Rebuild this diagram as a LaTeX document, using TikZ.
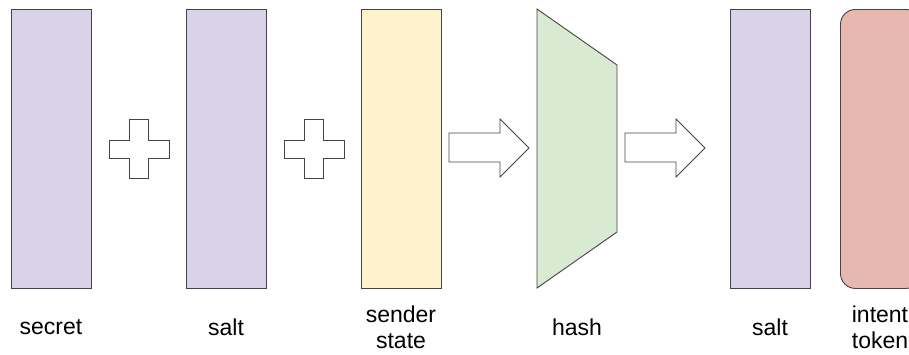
\documentclass[tikz,border=0pt]{standalone}
\usepackage{fontspec}
\setmainfont{Liberation Sans}
\definecolor{linegray}{HTML}{444444}
\definecolor{lilac}{HTML}{D9D2E9}
\definecolor{paleyellow}{HTML}{FFF2CC}
\definecolor{palegreen}{HTML}{D9EAD3}
\definecolor{palered}{HTML}{E6B8AF}
\begin{document}
\begin{tikzpicture}[x=1pt,y=-1pt,
  outline/.style={draw=linegray,line width=0.9pt,line join=miter},
  bar/.style={outline,rectangle,minimum width=80pt,minimum height=279pt,inner sep=0pt,anchor=north west},
  caption/.style={font=\fontsize{23}{26}\selectfont,align=center,text=black,inner sep=0pt}]
\useasboundingbox (0,0) rectangle (909,354);

% input, intermediate and output blocks
\node[bar,fill=lilac] (secret) at (11,9) {};
\node[bar,fill=lilac] (salt) at (186,9) {};
\node[bar,fill=paleyellow] (sender) at (361,9) {};
\node[bar,fill=lilac] (saltout) at (730,9) {};
\node[bar,fill=palered,rounded corners=15pt] (token) at (840,9) {};

% hash block (trapezoid narrowing to the right)
\draw[outline,fill=palegreen] (537,9) -- (617,65) -- (617,232) -- (537,288) -- cycle;
\coordinate (hash) at (577,148);

% plus signs
\foreach \cx in {139,314}{
  \draw[outline,fill=white]
    (\cx-9.5,119) -- (\cx+9.5,119) -- (\cx+9.5,140) -- (\cx+30,140) -- (\cx+30,158)
    -- (\cx+9.5,158) -- (\cx+9.5,178) -- (\cx-9.5,178) -- (\cx-9.5,158) -- (\cx-30,158)
    -- (\cx-30,140) -- (\cx-9.5,140) -- cycle;
}

% block arrows
\foreach \ax in {449,625}{
  \draw[outline,fill=white]
    (\ax,133) -- (\ax+51,133) -- (\ax+51,119) -- (\ax+80,148) -- (\ax+51,177)
    -- (\ax+51,162) -- (\ax,162) -- cycle;
}

% captions
\node[caption] (lsecret) at (51,327) {secret};
\node[caption] (lsalt) at (226,327) {salt};
\node[caption] (lsender) at (401,327) {sender\\state};
\node[caption] (lhash) at (577,327) {hash};
\node[caption] (lsaltout) at (770,327) {salt};
\node[caption] (ltoken) at (880,327) {intent\\token};
\end{tikzpicture}
\end{document}
